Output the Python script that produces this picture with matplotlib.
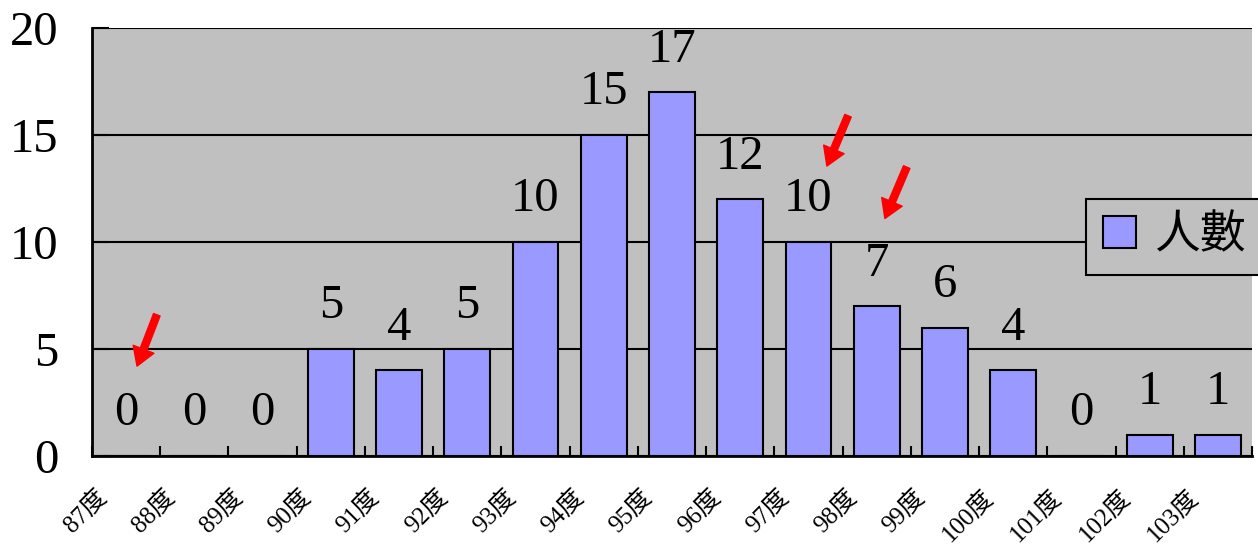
import matplotlib
matplotlib.use("Agg")
import matplotlib.pyplot as plt
import numpy as np

# Data
years = ["87度", "88度", "89度", "90度", "91度", "92度", "93度", "94度", "95度",
         "96度", "97度", "98度", "99度", "100度", "101度", "102度", "103度"]
counts = [0, 0, 0, 5, 4, 5, 10, 15, 17, 12, 10, 7, 6, 4, 0, 1, 1]
series_name = "人數"
y_ticks = [0, 5, 10, 15, 20]

# Red pointer arrows: (tail, tip) in data coordinates
arrow_tails = [(0.45, 6.6), (10.58, 15.9), (11.44, 13.5)]
arrow_tips = [(0.16, 4.2), (10.27, 13.55), (11.12, 11.1)]

FONT = ["Liberation Serif", "Noto Sans CJK TC", "DejaVu Sans"]
plt.rcParams["font.family"] = FONT

BG = "#C0C0C0"
BAR = "#9999FF"

fig = plt.figure(figsize=(12.58, 5.46), dpi=100)
ax = fig.add_axes([92 / 1258, 90 / 546, 1160 / 1258, 428 / 546])
ax.set_facecolor(BG)

x = np.arange(len(years))
bars = ax.bar(x, counts, width=0.67, color=BAR, edgecolor="black",
              linewidth=1.5, zorder=3, label=series_name)

ax.set_xlim(-0.5, len(years) - 0.5)
ax.set_ylim(0, 20)

# horizontal gridlines
ax.set_yticks(y_ticks)
ax.yaxis.grid(True, color="black", linewidth=1.5, zorder=1)
ax.set_axisbelow(True)
ax.tick_params(axis="y", direction="in", length=12, width=1.5,
               labelsize=35, pad=24)

# category labels at centers, tick marks at boundaries
ax.set_xticks(x)
ax.set_xticklabels(years)
ax.tick_params(axis="x", which="major", length=0, labelsize=18, pad=21)
for lbl in ax.get_xticklabels():
    lbl.set_rotation(45)
    lbl.set_ha("right")
    lbl.set_va("top")
    lbl.set_transform(lbl.get_transform() +
                      matplotlib.transforms.ScaledTranslation(-0.15, 0, fig.dpi_scale_trans))
ax.set_xticks(np.arange(len(years) + 1) - 0.5, minor=True)
ax.tick_params(axis="x", which="minor", direction="in", length=7, width=1.5)

for side in ("top", "right"):
    ax.spines[side].set_visible(False)
for side in ("left", "bottom"):
    ax.spines[side].set_linewidth(2)
    ax.spines[side].set_zorder(4)

# value labels
for xi, v in zip(x, counts):
    ax.annotate(str(v), xy=(xi, v), xytext=(0, 22), textcoords="offset points",
                ha="center", va="baseline", fontsize=35, zorder=6,
                annotation_clip=False)

# red arrows
for tail, tip in zip(arrow_tails, arrow_tips):
    ax.annotate("", xy=tip, xytext=tail,
                arrowprops=dict(arrowstyle="simple,head_length=1.3,head_width=1.6,tail_width=0.5",
                                color="red", mutation_scale=10,
                                shrinkA=0, shrinkB=0),
                zorder=7)

leg = fig.legend(handles=[bars], labels=[series_name],
                 loc="upper left", bbox_to_anchor=(1086 / 1258, 1 - 199 / 546),
                 fontsize=33, frameon=True, fancybox=False,
                 facecolor=BG, edgecolor="black", framealpha=1,
                 handlelength=0.72, handleheight=0.72, handletextpad=0.4,
                 borderpad=0.36, borderaxespad=0)
leg.get_frame().set_linewidth(1.5)
leg.set_zorder(8)

fig.savefig("out.png", dpi=100)
